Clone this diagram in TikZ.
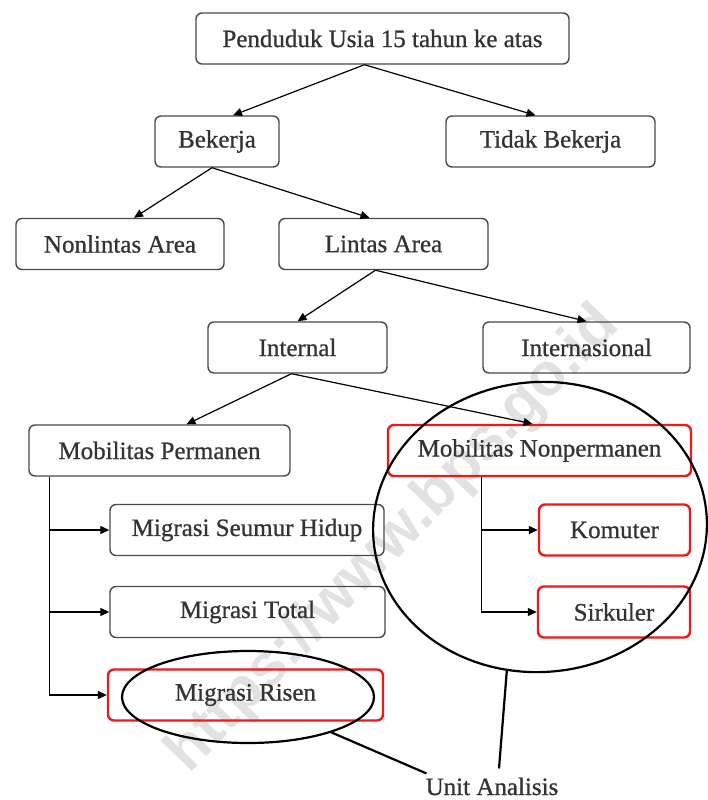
\documentclass[tikz,border=0pt]{standalone}
\usepackage{fontspec}
\setmainfont{Liberation Serif}[RawFeature={embolden=0.8}]
\setsansfont{Liberation Sans}
\usetikzlibrary{arrows.meta,calc,shapes.geometric}
\definecolor{txtgray}{HTML}{333333}
\definecolor{boxgray}{HTML}{4A4A4A}
\definecolor{boxred}{HTML}{F01818}
\definecolor{wmgray}{HTML}{E2E2E2}
\begin{document}
\begin{tikzpicture}[x=1pt,y=-1pt,
  box/.style={draw=boxgray, line width=1.4pt, rounded corners=6pt, minimum height=51pt,
    text=txtgray, font=\fontsize{25}{30}\selectfont, inner sep=0pt},
  redbox/.style={box, draw=boxred, line width=2.4pt},
  arr/.style={-{Triangle[length=9pt,width=8pt]}, line width=1.2pt, draw=black},
  ring/.style={draw=black, line width=2.2pt, ellipse, inner sep=0pt},
  lead/.style={draw=black, line width=2.2pt}]
\useasboundingbox (0,0) rectangle (707,800);
% watermark
\node[rotate=46, text=wmgray, font=\fontsize{60}{62}\selectfont\bfseries\sffamily, inner sep=0pt] (wm) at (394,540) {https://www.bps.go.id};
% boxes
\node[box, minimum width=373pt] (root) at (382.5,38.5) {Penduduk Usia 15 tahun ke atas};
\node[box, minimum width=124pt] (bekerja) at (217,141.5) {Bekerja};
\node[box, minimum width=209pt] (tidak) at (550.5,141.5) {Tidak Bekerja};
\node[box, minimum width=208pt] (nonlintas) at (120,244) {Nonlintas Area};
\node[box, minimum width=209pt] (lintas) at (383.5,244) {Lintas Area};
\node[box, minimum width=179pt] (internal) at (297.5,347.5) {Internal};
\node[box, minimum width=207pt] (intl) at (586.5,347.5) {Internasional};
\node[box, minimum width=261pt] (mp) at (159.5,450.5) {Mobilitas Permanen};
\node[redbox, minimum width=303pt] (mn) at (539.5,450.5) {Mobilitas Nonpermanen};
\node[box, minimum width=274pt] (msh) at (247,530) {Migrasi Seumur Hidup};
\node[box, minimum width=275pt] (mt) at (247.5,612) {Migrasi Total};
\node[redbox, minimum width=275pt] (mr) at (245.5,695) {Migrasi Risen};
\node[redbox, minimum width=151pt] (kom) at (614.5,530) {Komuter};
\node[redbox, minimum width=152pt] (sir) at (614,612) {Sirkuler};
% tree arrows
\draw[arr] ($(root.south)+(-18,0)$) -- ($(bekerja.north)+(16,0)$);
\draw[arr] ($(root.south)+(-18,0)$) -- ($(tidak.north)+(-15,0)$);
\draw[arr] ($(bekerja.south)+(-5,0)$) -- ($(nonlintas.north)+(14,0)$);
\draw[arr] ($(bekerja.south)+(-5,0)$) -- ($(lintas.north)+(-14,0)$);
\draw[arr] ($(lintas.south)+(-8,0)$) -- (internal.north);
\draw[arr] ($(lintas.south)+(-8,0)$) -- (intl.north);
\draw[arr] ($(internal.south)+(-6,0)$) -- ($(mp.north)+(27,0)$);
\draw[arr] ($(internal.south)+(-6,0)$) -- ($(mn.north)+(-7,0)$);
% elbow arrows
\coordinate (mpspine) at ($(mp.south west)+(21,0)$);
\draw[arr] (mpspine) |- (msh.west);
\draw[arr] (mpspine) |- (mt.west);
\draw[arr] (mpspine) |- (mr.west);
\coordinate (mnspine) at ($(mn.south west)+(95,0)$);
\draw[arr] (mnspine) |- (kom.west);
\draw[arr] (mnspine) |- (sir.west);
% rings
\node[ring, minimum width=252pt, minimum height=92pt] (smallring) at (248,697) {};
\node[ring, minimum width=334pt, minimum height=290pt, rotate=4] (bigring) at (540,527) {};
\node[anchor=base, text=txtgray, font=\fontsize{25}{30}\selectfont, inner sep=0pt] (ua) at (492,795) {Unit Analisis};
\coordinate (uaA) at ($(ua.north west)+(1,-4)$);
\coordinate (uaB) at ($(ua.north)+(7,-9)$);
\draw[lead] (smallring.337) -- (uaA);
\draw[lead] (bigring.253) -- (uaB);
\end{tikzpicture}
\end{document}
